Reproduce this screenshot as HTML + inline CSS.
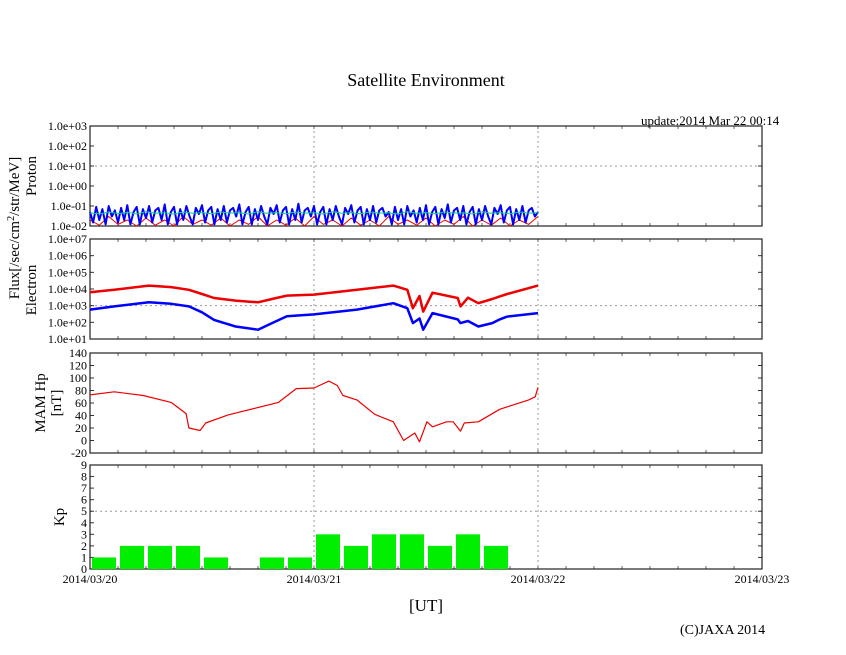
<!DOCTYPE html>
<html><head><meta charset="utf-8"><style>
body{margin:0;background:#fff}
svg{display:block;font-family:"Liberation Serif",serif}
</style></head><body>
<svg id="c" width="846" height="655" xmlns="http://www.w3.org/2000/svg">
<text x="426" y="86" font-size="18" text-anchor="middle">Satellite Environment</text>
<text x="641" y="125" font-size="13">update:2014 Mar 22 00:14</text>
<text x="426" y="611" font-size="17" text-anchor="middle">[UT]</text>
<text x="680" y="634" font-size="14">(C)JAXA 2014</text>
<text transform="translate(19,228) rotate(-90)" font-size="15" text-anchor="middle">Flux[/sec/cm<tspan dy="-5" font-size="10">2</tspan><tspan dy="5">/str/MeV]</tspan></text>
<text transform="translate(36,176) rotate(-90)" font-size="15" text-anchor="middle">Proton</text>
<text transform="translate(36,290) rotate(-90)" font-size="15" text-anchor="middle">Electron</text>
<text transform="translate(45,403) rotate(-90)" font-size="15" text-anchor="middle">MAM Hp</text>
<text transform="translate(61,403) rotate(-90)" font-size="15" text-anchor="middle">[nT]</text>
<text transform="translate(64,517) rotate(-90)" font-size="15" text-anchor="middle">Kp</text>
<g id="g"></g>
</svg>
<script>
// ---- data ----
const xLabels=["2014/03/20","2014/03/21","2014/03/22","2014/03/23"];
const protonBlue=[0.05,0.015,0.09,0.02,0.07,0.012,0.1,0.03,0.06,0.015,0.08,0.02,0.11,0.012,0.05,0.09,0.012,0.07,0.025,0.1,0.015,0.06,0.08,0.02,0.12,0.012,0.05,0.09,0.012,0.07,0.02,0.1,0.03,0.012,0.08,0.04,0.11,0.015,0.06,0.09,0.012,0.07,0.02,0.1,0.015,0.06,0.08,0.03,0.12,0.012,0.05,0.09,0.012,0.07,0.02,0.1,0.03,0.012,0.08,0.04,0.11,0.015,0.06,0.09,0.012,0.07,0.02,0.13,0.015,0.06,0.08,0.03,0.1,0.012,0.05,0.09,0.012,0.07,0.02,0.1,0.03,0.012,0.08,0.04,0.11,0.015,0.06,0.09,0.012,0.07,0.02,0.1,0.015,0.06,0.08,0.03,0.05,0.012,0.09,0.02,0.07,0.012,0.1,0.03,0.06,0.015,0.08,0.02,0.11,0.012,0.05,0.09,0.012,0.07,0.025,0.12,0.015,0.06,0.08,0.02,0.1,0.012,0.05,0.09,0.012,0.07,0.02,0.1,0.03,0.012,0.08,0.04,0.11,0.015,0.06,0.09,0.012,0.07,0.02,0.1,0.015,0.06,0.08,0.03,0.05];
const protonRed=[0.02,0.011,0.03,0.012,0.02,0.01,0.025,0.011,0.02,0.01,0.03,0.012,0.02,0.011,0.025,0.01,0.02,0.012,0.03,0.01,0.02,0.011,0.025,0.01,0.03,0.012,0.02,0.01,0.025,0.011,0.02,0.01,0.03,0.012,0.02,0.011,0.025,0.01,0.02,0.012,0.03,0.01,0.02,0.011,0.025,0.01,0.02,0.012,0.03];
const protonGreen=[0.045,0.04,0.05,0.042,0.048,0.04,0.052,0.044,0.046,0.04,0.05,0.043,0.047,0.041,0.05,0.044,0.046,0.04,0.052,0.043,0.047,0.041,0.05,0.044,0.046,0.04,0.051,0.043,0.047,0.041,0.05,0.044,0.046,0.04,0.052,0.043,0.047,0.041,0.05,0.044,0.046,0.04,0.051,0.043,0.047,0.041,0.05,0.044,0.046];
const eHours=[0,2.6,6.3,8.7,10.6,12,13.3,15.6,18,19.5,21.1,24,28.6,32.5,34,34.6,35.3,35.7,36.7,39.4,39.7,40.5,41.6,43.1,43.9,44.7,48];
const eRed=[6.3e3,9e3,1.6e4,1.3e4,9e3,5e3,2.9e3,2e3,1.6e3,2.5e3,4e3,4.6e3,9e3,1.6e4,9e3,7e2,3.8e3,4.4e2,6e3,2.9e3,9e2,3e3,1.4e3,2.5e3,3.6e3,5e3,1.6e4];
const eBlue=[5.8e2,9e2,1.6e3,1.3e3,9e2,4e2,1.4e2,5.6e1,3.6e1,9e1,2.3e2,3e2,5.8e2,1.4e3,7e2,9e1,1.7e2,3.6e1,3.6e2,1.5e2,9e1,1.2e2,5.6e1,9e1,1.5e2,2.2e2,3.6e2];
const mHours=[0,2.6,5.7,8.7,10.3,10.6,11.8,12.4,14.8,20.2,22.1,24,25.6,26.5,27.1,28.6,30.5,32.5,33.6,34.8,35.3,36.1,36.7,38.2,38.9,39.7,40.1,41.6,43.9,47,47.7,48];
const mHp=[73,78,72,61,43,20,16,28,41,61,83,84,95,88,72,65,42,30,0,12,-2,30,22,30,30,15,28,30,50,65,70,85];
const kp=[1,2,2,2,1,0,1,1,3,2,3,3,2,3,2,0];
const logTicks1=["1.0e-02","1.0e-01","1.0e+00","1.0e+01","1.0e+02","1.0e+03"];
const logTicks2=["1.0e+01","1.0e+02","1.0e+03","1.0e+04","1.0e+05","1.0e+06","1.0e+07"];
const mTicks=[-20,0,20,40,60,80,100,120,140];
const kTicks=[0,1,2,3,4,5,6,7,8,9];

// ---- layout ----
const X0=90,X1=762;
const xs=h=>X0+h*(X1-X0)/72;
const P={p:[126,226,-2,3],e:[239,339,1,7],m:[353,453,-20,140],k:[465,569,0,9]};
const yLin=(k,v)=>{const[t,b,a,z]=P[k];return b-(v-a)/(z-a)*(b-t);};
const yLog=(k,v)=>yLin(k,Math.log10(v));
const g=document.getElementById('g');
const NS="http://www.w3.org/2000/svg";
function mk(tag,at,parent){const e=document.createElementNS(NS,tag);for(const k in at)e.setAttribute(k,at[k]);(parent||g).appendChild(e);return e;}

function panel(k,ticks,tickVal,gridVals,name){
  const[t,b]=P[k];
  [1,2].forEach(d=>{const l=mk('line',{x1:xs(24*d),x2:xs(24*d),y1:t,y2:b,stroke:'#999','stroke-dasharray':'2,3'});
  
  });
  gridVals.forEach(v=>{const y=yLin(k,v);const l=mk('line',{x1:X0,x2:X1,y1:y,y2:y,stroke:'#999','stroke-dasharray':'2,3'});
  
  });
  for(let h=3;h<72;h+=3){mk('line',{x1:xs(h),x2:xs(h),y1:t,y2:t+3,stroke:'#666'});mk('line',{x1:xs(h),x2:xs(h),y1:b,y2:b-3,stroke:'#666'});}
  ticks.forEach((lab,i)=>{const y=yLin(k,tickVal(i));
    mk('line',{x1:X0,x2:X0+4,y1:y,y2:y,stroke:'#333'});mk('line',{x1:X1,x2:X1-4,y1:y,y2:y,stroke:'#333'});
    const tx=mk('text',{x:X0-3,y:y+4,'font-size':12,'text-anchor':'end'});tx.textContent=lab;
    
    });
  const r=mk('rect',{x:X0,y:t,width:X1-X0,height:b-t,fill:'none',stroke:'#222','stroke-width':1.2});
  
  
}
function poly(k,hours,vals,log,color,w,name){
  const pts=vals.map((v,i)=>xs(hours[i]).toFixed(1)+','+(log?yLog(k,v):yLin(k,v)).toFixed(1)).join(' ');
  const p=mk('polyline',{points:pts,fill:'none',stroke:color,'stroke-width':w,'stroke-linejoin':'round'});
  
  
}
panel('p',logTicks1,i=>i-2,[1],'proton');
panel('e',logTicks2,i=>i+1,[3],'electron');
panel('m',mTicks.map(String),i=>mTicks[i],[],'mam-hp');
panel('k',kTicks.map(String),i=>kTicks[i],[5],'kp');

poly('p',protonRed.map((_,i)=>i*48/(protonRed.length-1)),protonRed,true,'#e00',1,'proton-red-series');
poly('p',protonBlue.map((_,i)=>i*48/(protonBlue.length-1)),protonBlue,true,'#00f',2,'proton-blue-series');
poly('p',protonGreen.map((_,i)=>i*48/(protonGreen.length-1)),protonGreen,true,'#1c8',1,'proton-green-series');
poly('e',eHours,eRed,true,'#e00',2.5,'electron-red-series');
poly('e',eHours,eBlue,true,'#00f',2.5,'electron-blue-series');
poly('m',mHours,mHp,false,'#e00',1.2,'mam-hp-series');
kp.forEach((v,i)=>{if(!v)return;const y=yLin('k',v);
  const r=mk('rect',{x:xs(i*3)+2,y:y,width:xs(3)-X0-4,height:P.k[1]-y,fill:'#00ee00'});
  
  });
xLabels.forEach((l,i)=>{const t=mk('text',{x:xs(24*i),y:583,'font-size':12,'text-anchor':'middle'});t.textContent=l;
  
  });
</script>
</body></html>
